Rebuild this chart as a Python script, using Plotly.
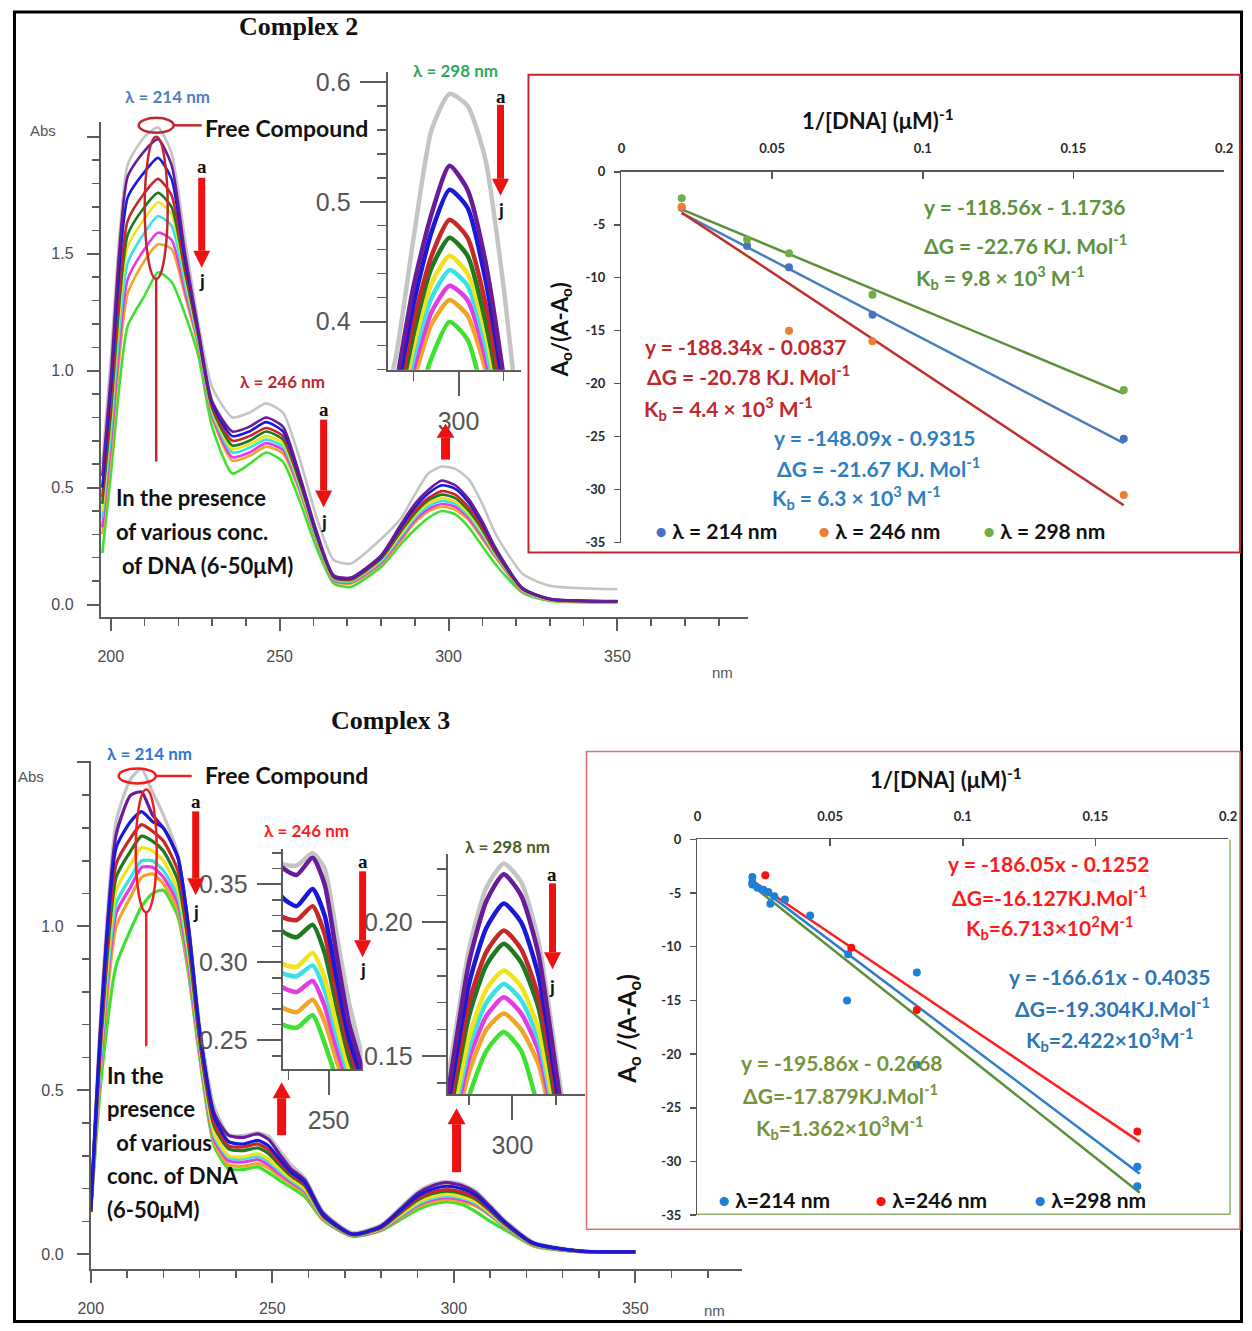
import plotly.graph_objects as go

W, H = 1252, 1331
# the page photograph is slightly shifted/scaled; compensate so reference pixels land in place
OX, OY, SX, SY = 12.2, 8.1, 0.983, 0.9886


def fx(x):
    return ((x - OX) / SX) / W


def fy(y):
    return 1 - ((y - OY) / SY) / H


# ---------------- Complex 2 spectra (Abs vs nm) ----------------
WL2 = [197.5, 200, 205, 210, 214, 218, 222, 226, 230, 236, 241, 246, 251, 256, 261, 266, 271,
       280, 286, 290, 294, 298, 302, 306, 310, 314, 322, 330, 350]
C2_FREE = [0.60, 1.05, 1.88, 2.00, 2.04, 1.93, 1.56, 1.20, 0.93, 0.80, 0.82, 0.86, 0.82, 0.62, 0.37, 0.19, 0.175,
           0.28, 0.37, 0.47, 0.56, 0.59, 0.58, 0.535, 0.43, 0.30, 0.13, 0.08, 0.065]
C2_A = [0.55, 0.97, 1.83, 1.94, 1.99, 1.88, 1.50, 1.17, 0.87, 0.74, 0.76, 0.80, 0.76, 0.55, 0.31, 0.125, 0.115,
        0.21, 0.345, 0.43, 0.49, 0.53, 0.51, 0.45, 0.355, 0.24, 0.07, 0.025, 0.015]
C2_B = [0.50, 0.92, 1.74, 1.85, 1.91, 1.82, 1.47, 1.16, 0.86, 0.72, 0.74, 0.78, 0.74, 0.54, 0.30, 0.122, 0.112,
        0.205, 0.335, 0.415, 0.475, 0.51, 0.495, 0.435, 0.345, 0.235, 0.068, 0.024, 0.014]
C2_C = [0.46, 0.86, 1.64, 1.76, 1.82, 1.75, 1.44, 1.15, 0.85, 0.70, 0.72, 0.755, 0.72, 0.53, 0.295, 0.118, 0.108,
        0.20, 0.325, 0.40, 0.455, 0.485, 0.47, 0.415, 0.33, 0.225, 0.066, 0.023, 0.013]
C2_D = [0.43, 0.81, 1.58, 1.70, 1.76, 1.70, 1.42, 1.14, 0.84, 0.68, 0.70, 0.74, 0.705, 0.52, 0.29, 0.115, 0.105,
        0.195, 0.315, 0.39, 0.445, 0.47, 0.455, 0.40, 0.32, 0.22, 0.064, 0.022, 0.013]
C2_E = [0.40, 0.78, 1.53, 1.65, 1.72, 1.67, 1.40, 1.13, 0.83, 0.665, 0.685, 0.72, 0.69, 0.51, 0.285, 0.112, 0.102,
        0.19, 0.305, 0.38, 0.432, 0.455, 0.44, 0.39, 0.31, 0.215, 0.062, 0.021, 0.012]
C2_F = [0.37, 0.73, 1.46, 1.59, 1.66, 1.62, 1.37, 1.12, 0.82, 0.65, 0.67, 0.705, 0.675, 0.50, 0.28, 0.108, 0.098,
        0.185, 0.295, 0.37, 0.42, 0.443, 0.43, 0.38, 0.30, 0.21, 0.06, 0.02, 0.012]
C2_G = [0.33, 0.68, 1.39, 1.52, 1.59, 1.56, 1.34, 1.11, 0.81, 0.63, 0.65, 0.69, 0.66, 0.49, 0.275, 0.104, 0.094,
        0.178, 0.285, 0.36, 0.408, 0.43, 0.418, 0.37, 0.29, 0.205, 0.058, 0.019, 0.011]
C2_H = [0.30, 0.64, 1.33, 1.47, 1.54, 1.52, 1.32, 1.10, 0.80, 0.615, 0.635, 0.675, 0.645, 0.48, 0.27, 0.10, 0.09,
        0.172, 0.275, 0.35, 0.398, 0.418, 0.405, 0.36, 0.28, 0.20, 0.056, 0.018, 0.011]
C2_J = [0.22, 0.55, 1.19, 1.32, 1.42, 1.38, 1.24, 1.06, 0.76, 0.56, 0.60, 0.65, 0.61, 0.44, 0.24, 0.09, 0.075,
        0.16, 0.26, 0.32, 0.37, 0.40, 0.385, 0.33, 0.25, 0.17, 0.05, 0.015, 0.009]

# ---------------- Complex 3 spectra ----------------
WL3 = [200, 203, 207, 211, 214, 217, 220, 224, 227, 230, 234, 238, 242, 246, 249, 252, 255, 259, 264, 272,
       280, 286, 290, 294, 298, 302, 306, 310, 314, 322, 335, 350]
C3_FREE = [0.14, 0.78, 1.32, 1.45, 1.48, 1.41, 1.34, 1.22, 1.00, 0.70, 0.45, 0.364, 0.362, 0.370, 0.36, 0.318,
           0.275, 0.232, 0.13, 0.066, 0.09, 0.15, 0.19, 0.213, 0.222, 0.215, 0.193, 0.15, 0.105, 0.037, 0.01, 0.008]
C3_A = [0.13, 0.75, 1.28, 1.40, 1.41, 1.34, 1.30, 1.21, 0.99, 0.68, 0.43, 0.362, 0.356, 0.367, 0.35, 0.305,
        0.262, 0.225, 0.125, 0.062, 0.086, 0.145, 0.185, 0.208, 0.218, 0.21, 0.188, 0.145, 0.10, 0.034, 0.009, 0.007]
C3_B = [0.13, 0.73, 1.24, 1.32, 1.35, 1.32, 1.30, 1.21, 0.99, 0.68, 0.42, 0.343, 0.336, 0.347, 0.33, 0.29,
        0.252, 0.218, 0.12, 0.061, 0.084, 0.14, 0.177, 0.198, 0.207, 0.20, 0.18, 0.14, 0.097, 0.033, 0.009, 0.007]
C3_C = [0.13, 0.70, 1.19, 1.27, 1.31, 1.29, 1.26, 1.17, 0.96, 0.66, 0.40, 0.330, 0.327, 0.336, 0.318, 0.28,
        0.246, 0.213, 0.118, 0.060, 0.082, 0.135, 0.17, 0.189, 0.197, 0.19, 0.172, 0.135, 0.094, 0.032, 0.009, 0.007]
C3_D = [0.13, 0.68, 1.15, 1.23, 1.275, 1.26, 1.23, 1.14, 0.94, 0.65, 0.39, 0.321, 0.316, 0.324, 0.306, 0.272,
        0.24, 0.208, 0.115, 0.059, 0.08, 0.132, 0.165, 0.184, 0.192, 0.185, 0.168, 0.132, 0.092, 0.031, 0.009, 0.007]
C3_E = [0.13, 0.66, 1.11, 1.19, 1.24, 1.23, 1.20, 1.11, 0.92, 0.64, 0.37, 0.300, 0.297, 0.306, 0.29, 0.26,
        0.232, 0.20, 0.112, 0.058, 0.078, 0.126, 0.157, 0.175, 0.182, 0.176, 0.16, 0.127, 0.089, 0.03, 0.008, 0.006]
C3_F = [0.13, 0.64, 1.07, 1.15, 1.20, 1.20, 1.17, 1.09, 0.90, 0.63, 0.36, 0.294, 0.291, 0.298, 0.282, 0.253,
        0.227, 0.196, 0.11, 0.057, 0.077, 0.123, 0.153, 0.17, 0.177, 0.171, 0.156, 0.124, 0.087, 0.029, 0.008, 0.006]
C3_G = [0.13, 0.62, 1.04, 1.12, 1.18, 1.18, 1.15, 1.07, 0.88, 0.62, 0.35, 0.285, 0.281, 0.288, 0.272, 0.245,
        0.221, 0.191, 0.108, 0.056, 0.075, 0.12, 0.149, 0.165, 0.172, 0.166, 0.152, 0.121, 0.085, 0.028, 0.008, 0.006]
C3_H = [0.13, 0.60, 1.00, 1.09, 1.15, 1.16, 1.13, 1.05, 0.86, 0.61, 0.34, 0.272, 0.268, 0.276, 0.262, 0.237,
        0.215, 0.186, 0.106, 0.055, 0.074, 0.117, 0.144, 0.16, 0.166, 0.16, 0.147, 0.118, 0.083, 0.027, 0.008, 0.006]
C3_J = [0.13, 0.55, 0.88, 0.99, 1.06, 1.10, 1.11, 1.03, 0.85, 0.60, 0.33, 0.261, 0.258, 0.266, 0.248, 0.225,
        0.205, 0.175, 0.104, 0.054, 0.072, 0.11, 0.135, 0.152, 0.159, 0.152, 0.13, 0.10, 0.075, 0.025, 0.007, 0.006]

CURVE_COLORS = {
    'free': '#c4c4c4', 'a': '#6a1b9a', 'b': '#1a1ad6', 'c': '#c62828', 'd': '#1e7a1e',
    'e': '#f2e21a', 'f': '#38e0e8', 'g': '#e23ce2', 'h': '#f0a428', 'j': '#3ee032',
}

# ---------------- Binding plots: 1/[DNA] vs Ao/(A-Ao) ----------------
C2_X_214 = [0.02, 0.0417, 0.0556, 0.0833, 0.1667]
C2_Y_214 = [-3.4, -7.0, -9.0, -13.5, -25.2]
C2_X_246 = [0.02, 0.0556, 0.0833, 0.1667]
C2_Y_246 = [-3.3, -15.0, -16.0, -30.5]
C2_X_298 = [0.02, 0.0417, 0.0556, 0.0833, 0.1667]
C2_Y_298 = [-2.5, -6.4, -7.7, -11.6, -20.6]
C2_FIT = {'214': (-148.09, -0.9315), '246': (-188.34, -0.0837), '298': (-118.56, -1.1736)}

C3_X_214 = [0.0207, 0.0207, 0.0226, 0.0248, 0.0267, 0.029, 0.033, 0.0425, 0.0564, 0.0827, 0.1658]
C3_Y_214 = [-3.5, -4.2, -4.5, -4.7, -4.9, -5.3, -5.6, -7.1, -15.0, -12.4, -30.5]
C3_X_246 = [0.0256, 0.058, 0.0827, 0.1658]
C3_Y_246 = [-3.35, -10.1, -15.9, -27.2]
C3_X_298 = [0.0207, 0.0275, 0.0568, 0.0827, 0.1658]
C3_Y_298 = [-4.0, -6.0, -10.7, -21.0, -32.3]
# fitted lines as drawn (red upper, blue middle, green lower)
C3_FIT = {'red': (-166.61, -0.4035), 'blue': (-186.05, -0.1252), 'green': (-195.86, -0.2668)}
FIT_X = [0.02, 0.1667]

fig = go.Figure()


def add_spec(wl, ys, color, width, xa, ya):
    fig.add_trace(go.Scatter(x=wl, y=ys, mode='lines',
                             line=dict(color=color, width=width, shape='spline', smoothing=0.6),
                             xaxis=xa, yaxis=ya, showlegend=False, hoverinfo='skip'))


c2_order = [('free', C2_FREE), ('j', C2_J), ('h', C2_H), ('g', C2_G), ('f', C2_F), ('e', C2_E),
            ('d', C2_D), ('c', C2_C), ('b', C2_B), ('a', C2_A)]
for k, ys in c2_order:
    add_spec(WL2, ys, CURVE_COLORS[k], 2.6, 'x', 'y')
for k, ys in c2_order:
    add_spec(WL2, ys, CURVE_COLORS[k], 4.5, 'x2', 'y2')

c3_order = [('free', C3_FREE), ('j', C3_J), ('h', C3_H), ('g', C3_G), ('f', C3_F), ('e', C3_E),
            ('d', C3_D), ('c', C3_C), ('a', C3_A), ('b', C3_B)]
for k, ys in c3_order:
    add_spec(WL3, ys, CURVE_COLORS[k], 3.2, 'x4', 'y4')
c3_inset_order = [('free', C3_FREE), ('j', C3_J), ('h', C3_H), ('g', C3_G), ('f', C3_F), ('e', C3_E),
                  ('d', C3_D), ('c', C3_C), ('b', C3_B), ('a', C3_A)]
for k, ys in c3_inset_order:
    add_spec(WL3, ys, CURVE_COLORS[k], 4.5, 'x5', 'y5')
    add_spec(WL3, ys, CURVE_COLORS[k], 4.5, 'x6', 'y6')


def fit_line(m, b):
    return [m * x + b for x in FIT_X]


# Complex 2 binding plot
for key, col in [('298', '#5b8f3a'), ('214', '#4a7ebb'), ('246', '#c0302c')]:
    m, b = C2_FIT[key]
    fig.add_trace(go.Scatter(x=FIT_X, y=fit_line(m, b), mode='lines', line=dict(color=col, width=2.5),
                             xaxis='x3', yaxis='y3', showlegend=False, hoverinfo='skip'))
for xs, ys, col in [(C2_X_214, C2_Y_214, '#4472c4'), (C2_X_246, C2_Y_246, '#ed7d31'),
                    (C2_X_298, C2_Y_298, '#70ad47')]:
    fig.add_trace(go.Scatter(x=xs, y=ys, mode='markers', marker=dict(color=col, size=8),
                             xaxis='x3', yaxis='y3', showlegend=False, hoverinfo='skip'))

# Complex 3 binding plot
for key, col in [('green', '#5b8f3a'), ('blue', '#2e7bd0'), ('red', '#ff2020')]:
    m, b = C3_FIT[key]
    fig.add_trace(go.Scatter(x=FIT_X, y=fit_line(m, b), mode='lines', line=dict(color=col, width=2.5),
                             xaxis='x7', yaxis='y7', showlegend=False, hoverinfo='skip'))
for xs, ys, col in [(C3_X_298, C3_Y_298, '#1f7fd6'), (C3_X_214, C3_Y_214, '#1f7fd6'),
                    (C3_X_246, C3_Y_246, '#ff1010')]:
    fig.add_trace(go.Scatter(x=xs, y=ys, mode='markers', marker=dict(color=col, size=8),
                             xaxis='x7', yaxis='y7', showlegend=False, hoverinfo='skip'))

# ---------------- axes ----------------
AX = '#5c5c5c'
TF = dict(family='Liberation Sans, Arial', size=16, color='#4a4a4a')
TFI = dict(family='Liberation Sans, Arial', size=25, color='#555555')
SF = dict(family='Lato, Carlito, Liberation Sans', size=13, color='#2a2a2a', weight='bold')


def px_dom_x(a, b):
    return [fx(a), fx(b)]


def px_dom_y(bottom, top):
    return [fy(bottom), fy(top)]


def spec_axis(dom, rng, anchor, vals, texts, minor_dt, minor_t0, font=TF, tl=12, mtl=7, standoff=10):
    return dict(domain=dom, range=rng, anchor=anchor, showline=True, linecolor=AX, linewidth=2,
                ticks='outside', ticklen=tl, tickwidth=2, tickcolor=AX, tickmode='array',
                tickvals=vals, ticktext=texts, tickfont=font, ticklabelstandoff=standoff,
                minor=dict(ticks='outside', ticklen=mtl, tickwidth=1.5, tickcolor=AX,
                           dtick=minor_dt, tick0=minor_t0),
                showgrid=False, zeroline=False, fixedrange=True)


def bind_x(dom, anchor):
    return dict(domain=dom, range=[0, 0.2], anchor=anchor, side='top', showline=True, linecolor='#555555',
                linewidth=1.5, ticks='inside', ticklen=7, tickwidth=1.5, tickcolor='#555555',
                tickmode='array', tickvals=[0, 0.05, 0.1, 0.15, 0.2],
                ticktext=['0', '0.05', '0.1', '0.15', '0.2'], tickfont=SF, ticklabelstandoff=12,
                showgrid=False, zeroline=False, fixedrange=True)


def bind_y(dom, anchor):
    vals = [0, -5, -10, -15, -20, -25, -30, -35]
    return dict(domain=dom, range=[-35, 0], anchor=anchor, showline=True, linecolor='#555555',
                linewidth=1.5, ticks='outside', ticklen=6, tickwidth=1.5, tickcolor='#555555',
                tickmode='array', tickvals=vals, ticktext=[str(v) for v in vals], tickfont=SF,
                ticklabelstandoff=6, showgrid=False, zeroline=False, fixedrange=True)


layout_axes = dict(
    xaxis=spec_axis(px_dom_x(100, 748), [197.04, 388.76], 'y', [200, 250, 300, 350],
                    ['200', '250', '300', '350'], 10, 200, standoff=12),
    yaxis=spec_axis(px_dom_y(617, 122), [-0.0513, 2.064], 'x', [0, 0.5, 1.0, 1.5, 2.0],
                    ['0.0', '0.5', '1.0', '1.5', ''], 0.1, 0, standoff=10),
    xaxis2=spec_axis(px_dom_x(387, 520), [284.2, 313.8], 'y2', [300], ['300'], 10, 290,
                     font=TFI, tl=24, mtl=9, standoff=4),
    yaxis2=spec_axis(px_dom_y(370, 72), [0.36, 0.6083], 'x2', [0.4, 0.5, 0.6], ['0.4', '0.5', '0.6'],
                     0.02, 0.36, font=TFI, tl=26, mtl=9, standoff=4),
    xaxis3=bind_x(px_dom_x(621, 1224), 'y3'),
    yaxis3=bind_y(px_dom_y(543, 172), 'x3'),
    xaxis4=spec_axis(px_dom_x(90, 742), [200, 379.5], 'y4', [200, 250, 300, 350],
                     ['200', '250', '300', '350'], 10, 200, standoff=12),
    yaxis4=spec_axis(px_dom_y(1270, 762), [-0.0457, 1.503], 'x4', [0, 0.5, 1.0, 1.5],
                     ['0.0', '0.5', '1.0', ''], 0.1, 0, standoff=10),
    xaxis5=spec_axis(px_dom_x(282, 362), [238.5, 258.5], 'y5', [250], ['250'], 10, 240,
                     font=TFI, tl=24, mtl=9, standoff=4),
    yaxis5=spec_axis(px_dom_y(1070, 850), [0.2314, 0.3724], 'x5', [0.25, 0.30, 0.35],
                     ['0.25', '0.30', '0.35'], 0.01, 0.24, font=TFI, tl=24, mtl=9, standoff=4),
    xaxis6=spec_axis(px_dom_x(447, 585), [285.06, 316.8], 'y6', [300], ['300'], 10, 290,
                     font=TFI, tl=24, mtl=9, standoff=4),
    yaxis6=spec_axis(px_dom_y(1095, 855), [0.1358, 0.2254], 'x6', [0.15, 0.20], ['0.15', '0.20'],
                     0.01, 0.14, font=TFI, tl=24, mtl=9, standoff=4),
    xaxis7=bind_x(px_dom_x(697, 1228), 'y7'),
    yaxis7=bind_y(px_dom_y(1216, 840), 'x7'),
)

# ---------------- annotations ----------------
ann = []
SANS = 'Lato, Carlito, Liberation Sans'


def text(x, y, t, size=18, color='#000000', family=SANS, xanchor='center', yanchor='middle',
         angle=0, bold=True):
    ann.append(dict(x=fx(x), y=fy(y), xref='paper', yref='paper', text=('<b>%s</b>' % t) if bold else t,
                    showarrow=False, xanchor=xanchor, yanchor=yanchor, textangle=angle,
                    font=dict(family=family, size=size, color=color)))


SERIF = 'Liberation Serif, Times New Roman'
# Complex 2 spectrum
text(298, 27, 'Complex 2', 26, '#111111', SERIF)
text(167, 97, 'λ = 214 nm', 17, '#4f81bd')
text(202, 128, 'Free Compound', 23, '#111111', xanchor='left')
text(282, 382, 'λ = 246 nm', 17, '#c0282d')
text(455, 71, 'λ = 298 nm', 17, '#2ea860')
text(42, 131, 'Abs', 15, '#555555', 'Liberation Sans, Arial', bold=False)
text(722, 673, 'nm', 15, '#555555', 'Liberation Sans, Arial', bold=False)
text(113, 498, 'In the presence', 22, '#111111', xanchor='left')
text(113, 532, 'of various conc.', 22, '#111111', xanchor='left')
text(119, 566, 'of DNA (6-50μM)', 22, '#111111', xanchor='left')
for (x, ya, yj) in [(201, 167, 281), (323, 410, 522), (500, 97, 210)]:
    text(x, ya, 'a', 19, '#111111', SERIF)
    text(x, yj, 'j', 19, '#111111')

# Complex 3 spectrum
text(390, 721, 'Complex 3', 26, '#111111', SERIF)
text(149, 754, 'λ = 214 nm', 17, '#2e75d6')
text(202, 776, 'Free Compound', 23, '#111111', xanchor='left')
text(306, 831, 'λ = 246 nm', 17, '#ff1a1a')
text(507, 847, 'λ = 298 nm', 17, '#4a5d23')
text(30, 777, 'Abs', 15, '#555555', 'Liberation Sans, Arial', bold=False)
text(714, 1311, 'nm', 15, '#555555', 'Liberation Sans, Arial', bold=False)
for i, line in enumerate(['In the', 'presence', ' of various', 'conc. of DNA', '(6-50μM)']):
    text(104 if i != 2 else 108, 1076 + i * 33.5, line, 22, '#111111', xanchor='left')
for (x, ya, yj) in [(195, 802, 912), (362, 862, 970), (552, 875, 987)]:
    text(x, ya, 'a', 19, '#111111', SERIF)
    text(x, yj, 'j', 19, '#111111')

# Complex 2 binding plot text
text(878, 120, '1/[DNA] (μM)<sup>-1</sup>', 22, '#111111')
text(560, 330, 'A<sub>o</sub>/(A-A<sub>o</sub>)', 22, '#111111', angle=-90)
G2, R2, B2 = '#5e9240', '#c0282d', '#2f7ebf'
text(1025, 207, 'y = -118.56x - 1.1736', 21, G2)
text(1025, 244, 'ΔG = -22.76 KJ. Mol<sup>-1</sup>', 21, G2)
text(1000, 278, 'K<sub>b</sub> = 9.8 × 10<sup>3</sup> M<sup>-1</sup>', 21, G2)
text(746, 347, 'y = -188.34x - 0.0837', 21, R2)
text(748, 375, 'ΔG = -20.78 KJ. Mol<sup>-1</sup>', 21, R2)
text(728, 409, 'K<sub>b</sub> = 4.4 × 10<sup>3</sup> M<sup>-1</sup>', 21, R2)
text(875, 438, 'y = -148.09x - 0.9315', 21, B2)
text(878, 467, 'ΔG = -21.67 KJ. Mol<sup>-1</sup>', 21, B2)
text(856, 498, 'K<sub>b</sub> = 6.3 × 10<sup>3</sup> M<sup>-1</sup>', 21, B2)
text(716, 531, '<span style="color:#4472c4">•</span> λ = 214 nm', 21, '#111111')
text(879, 531, '<span style="color:#ed7d31">•</span> λ = 246 nm', 21, '#111111')
text(1044, 531, '<span style="color:#70ad47">•</span> λ = 298 nm', 21, '#111111')

# Complex 3 binding plot text
text(946, 779, '1/[DNA] (μM)<sup>-1</sup>', 22, '#111111')
text(628, 1030, 'A<sub>o</sub> /(A-A<sub>o</sub>)', 24, '#111111', angle=-90)
R3, B3, G3 = '#ff1a1a', '#2e75b6', '#77933c'
text(1049, 864, 'y = -186.05x - 0.1252', 21, R3)
text(1049, 897, 'ΔG=-16.127KJ.Mol<sup>-1</sup>', 21, R3)
text(1050, 928, 'K<sub>b</sub>=6.713×10<sup>2</sup>M<sup>-1</sup>', 21, R3)
text(1110, 977, 'y = -166.61x - 0.4035', 21, B3)
text(1112, 1008, 'ΔG=-19.304KJ.Mol<sup>-1</sup>', 21, B3)
text(1110, 1040, 'K<sub>b</sub>=2.422×10<sup>3</sup>M<sup>-1</sup>', 21, B3)
text(842, 1063, 'y = -195.86x - 0.2668', 21, G3)
text(840, 1095, 'ΔG=-17.879KJ.Mol<sup>-1</sup>', 21, G3)
text(840, 1128, 'K<sub>b</sub>=1.362×10<sup>3</sup>M<sup>-1</sup>', 21, G3)
text(774, 1200, '<span style="color:#1f7fd6">•</span> λ=214 nm', 21, '#111111')
text(931, 1200, '<span style="color:#ff1010">•</span> λ=246 nm', 21, '#111111')
text(1090, 1200, '<span style="color:#1f7fd6">•</span> λ=298 nm', 21, '#111111')

# ---------------- shapes ----------------
shapes = []


def rect(x0, y0, x1, y1, color, width, fill=None):
    shapes.append(dict(type='rect', xref='paper', yref='paper', x0=fx(x0), y0=fy(y1), x1=fx(x1), y1=fy(y0),
                       line=dict(color=color, width=width), fillcolor=fill or 'rgba(0,0,0,0)'))


def line(x0, y0, x1, y1, color, width):
    shapes.append(dict(type='line', xref='paper', yref='paper', x0=fx(x0), y0=fy(y0), x1=fx(x1), y1=fy(y1),
                       line=dict(color=color, width=width)))


def ellipse(x0, y0, x1, y1, color, width):
    shapes.append(dict(type='circle', xref='paper', yref='paper', x0=fx(x0), y0=fy(y1), x1=fx(x1), y1=fy(y0),
                       line=dict(color=color, width=width)))


def arrow(x, y_tail, y_tip, color='#ee1111', sw=7, hw=17, hl=17):
    d = 1 if y_tip > y_tail else -1
    yb = y_tip - d * hl
    rect(x - sw / 2, min(y_tail, yb), x + sw / 2, max(y_tail, yb), color, 0, color)
    path = 'M %f,%f L %f,%f L %f,%f Z' % (fx(x - hw / 2), fy(yb), fx(x + hw / 2), fy(yb), fx(x), fy(y_tip))
    shapes.append(dict(type='path', xref='paper', yref='paper', path=path, fillcolor=color,
                       line=dict(color=color, width=0)))


# outer frame (kept inside the drawable page) and panel boxes
shapes.append(dict(type='rect', xref='paper', yref='paper', x0=0.0012, y0=0.0012, x1=0.9988, y1=fy(12),
                   line=dict(color='#000000', width=3), fillcolor='rgba(0,0,0,0)'))
shapes.append(dict(type='rect', xref='paper', yref='paper', x0=fx(528), y0=fy(553), x1=0.9975, y1=fy(75),
                   line=dict(color='#c0282d', width=2), fillcolor='rgba(0,0,0,0)'))
shapes.append(dict(type='rect', xref='paper', yref='paper', x0=fx(586), y0=fy(1230), x1=0.9975, y1=fy(752),
                   line=dict(color='#f06a6a', width=1.5), fillcolor='rgba(0,0,0,0)'))
line(1230, 840, 1230, 1215, '#8fb070', 1.5)
line(697, 1215, 1230, 1215, '#8fb070', 1.5)

# Complex 2 markers
DR = '#c0282d'
ellipse(138, 118, 173, 133, DR, 2.5)
line(173, 125.5, 201, 125.5, DR, 2.5)
ellipse(144, 137, 167, 279, DR, 2.5)
line(155.5, 279, 155.5, 462, DR, 2.5)
arrow(201, 178, 268)
arrow(323, 420, 508)
arrow(500, 105, 196)
arrow(445, 460, 424, sw=9, hw=18, hl=14)

# Complex 3 markers
RR = '#f01e1e'
ellipse(118, 769, 155, 784, RR, 2.5)
line(155, 776.5, 191, 776.5, RR, 2.5)
ellipse(135, 790, 156, 913, RR, 2.5)
line(145.5, 913, 145.5, 1047, RR, 2.5)
arrow(195, 812, 896)
arrow(362, 872, 958)
arrow(552, 884, 970)
arrow(281, 1136, 1083, sw=9, hw=18, hl=16)
arrow(456, 1173, 1109, sw=9, hw=18, hl=16)

fig.update_layout(width=W, height=H, margin=dict(l=0, r=0, t=0, b=0), paper_bgcolor='white',
                  plot_bgcolor='rgba(0,0,0,0)', showlegend=False, annotations=ann, shapes=shapes,
                  **layout_axes)

fig.write_html('out.html', config={'displayModeBar': False, 'staticPlot': True},
               post_script="document.documentElement.style.margin='0';document.body.style.margin='0';"
                           "document.body.style.padding='0';document.documentElement.style.overflow='hidden';"
                           "document.body.style.overflow='hidden';")
